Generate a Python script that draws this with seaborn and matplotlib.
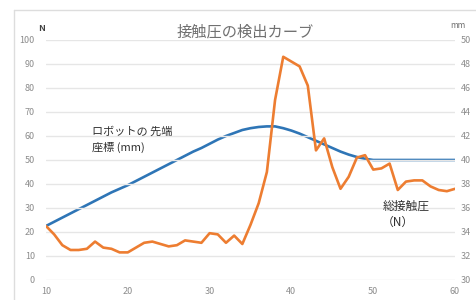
import matplotlib
matplotlib.use("Agg")
import matplotlib.pyplot as plt
import seaborn as sns
import pandas as pd
from matplotlib.lines import Line2D

# data
x_pos = list(range(10, 61))
force_n = [22.5, 19, 14.5, 12.5, 12.5, 13, 16, 13.5, 13, 11.5,
           11.5, 13.5, 15.5, 16, 15, 14, 14.5, 16.5, 16, 15.5,
           19.5, 19, 15.5, 18.5, 15, 23, 32, 45, 75, 93,
           91, 89, 81, 54, 59, 47, 38, 43, 51, 52,
           46, 46.5, 48.5, 37.5, 41, 41.5, 41.5, 39, 37.5, 37,
           38]
tip_mm = [34.5, 34.85, 35.2, 35.55, 35.9, 36.25, 36.6, 36.95, 37.3, 37.6,
          37.9, 38.25, 38.6, 38.95, 39.3, 39.65, 40.0, 40.35, 40.7, 41.0,
          41.35, 41.7, 42.0, 42.25, 42.5, 42.65, 42.75, 42.8, 42.8, 42.65,
          42.45, 42.2, 41.9, 41.6, 41.3, 41.0, 40.7, 40.45, 40.25, 40.1,
          40.0, 40.0, 40.0, 40.0, 40.0, 40.0, 40.0, 40.0, 40.0, 40.0,
          40.0]
left_ticks = list(range(0, 101, 10))
right_ticks = list(range(30, 51, 2))
x_ticks = list(range(10, 61, 10))

title = "接触圧の検出カーブ"
blue_label = "ロボットの 先端\n座標 (mm)"
orange_label = "総接触圧\n（N）"

sns.set_style("white")
plt.rcParams['font.family'] = ['Noto Sans CJK JP', 'DejaVu Sans']

df = pd.DataFrame({"x": x_pos, "force": force_n, "tip": tip_mm})

fig = plt.figure(figsize=(4.76, 3.0), dpi=100)
ax = fig.add_axes([0.0966, 0.0667, 0.8594, 0.80])
ax2 = ax.twinx()

sns.lineplot(data=df, x="x", y="force", ax=ax, color="#ED7D31", linewidth=1.9)
sns.lineplot(data=df, x="x", y="tip", ax=ax2, color="#2E75B6", linewidth=1.9)
ax2.set_zorder(ax.get_zorder() - 1)
ax.patch.set_visible(False)

ax.set_xlim(10, 60)
ax.set_ylim(0, 100)
ax2.set_ylim(30, 50)
ax.set_xticks(x_ticks)
ax.set_yticks(left_ticks)
ax2.set_yticks(right_ticks)
ax.set_xlabel("")
ax.set_ylabel("")
ax2.set_ylabel("")

ax.yaxis.grid(True, color="#E6E6E6", linewidth=1.0)
ax.set_axisbelow(True)
for a in (ax, ax2):
    for s in a.spines.values():
        s.set_visible(False)
    a.tick_params(length=0, labelsize=6.5, labelcolor="#8C8C8C")
ax.tick_params(axis="y", pad=8)
ax.tick_params(axis="x", pad=5)
ax2.tick_params(axis="y", pad=4)

fig.text(0.515, 0.895, title, ha="center", va="center", fontsize=11, color="#707070")
fig.text(0.088, 0.905, "N", ha="center", va="center", fontsize=6.5, color="#404040", fontweight="bold")
fig.text(0.962, 0.915, "mm", ha="center", va="center", fontsize=6, color="#707070")

ax.text(15.6, 58.5, blue_label, ha="left", va="center", fontsize=8, color="#303030", linespacing=1.5)
ax.text(51.1, 27.5, orange_label, ha="left", va="center", fontsize=8.5, color="#303030", linespacing=1.3)

# faint chart-area border seen along top and left
fig.add_artist(Line2D([0.03, 1.0], [0.967, 0.967], transform=fig.transFigure, color="#DDDDDD", linewidth=1))
fig.add_artist(Line2D([0.03, 0.03], [0.0, 0.967], transform=fig.transFigure, color="#DDDDDD", linewidth=1))

fig.savefig("out.png", dpi=100)
